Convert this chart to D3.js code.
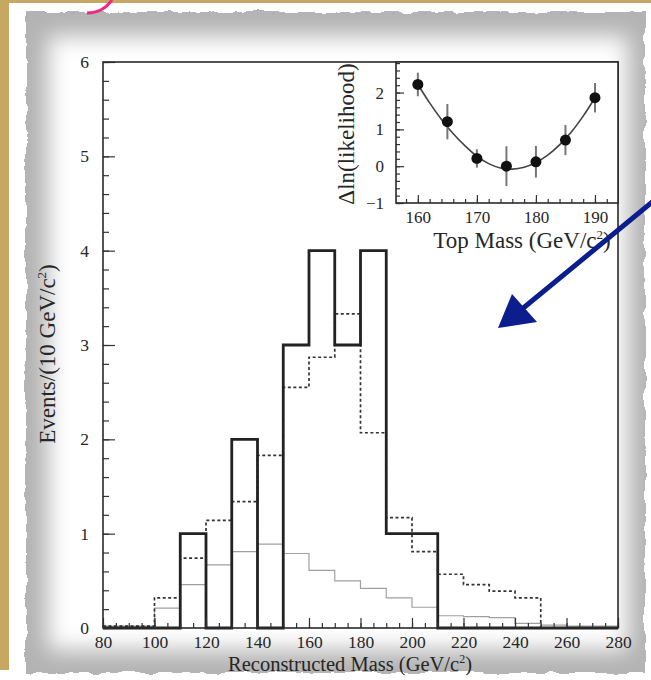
<!DOCTYPE html>
<html lang="en">
<head>
<meta charset="UTF-8">
<title>Reconstructed Mass</title>
<script src="https://d3js.org/d3.v7.min.js"></script>
<style>
  body { margin: 0; background: #fff; }
  svg { display: block; }
  text { font-family: "Liberation Serif", "DejaVu Serif", serif; fill: #262626; }
</style>
</head>
<body>
<script>
// 10 GeV bins, lower edges 80 ... 270
const binEdges = [80, 90, 100, 110, 120, 130, 140, 150, 160, 170, 180, 190, 200, 210, 220, 230, 240, 250, 260, 270, 280];
const dataCounts = [0, 0, 0, 1, 0, 2, 0, 3, 4, 3, 4, 1, 1, 0, 0, 0, 0, 0, 0, 0];
const signalPlusBkg = [0.02, 0.02, 0.32, 0.74, 1.14, 1.34, 1.83, 2.55, 2.87, 3.33, 2.07, 1.17, 0.81, 0.57, 0.46, 0.39, 0.32, 0, 0, 0];
const background = [0.02, 0.02, 0.21, 0.46, 0.67, 0.81, 0.89, 0.79, 0.61, 0.5, 0.42, 0.32, 0.22, 0.13, 0.12, 0.11, 0.05, 0.03, 0.02, 0.02];
const xTicks = [80, 100, 120, 140, 160, 180, 200, 220, 240, 260, 280];
const yTicks = [0, 1, 2, 3, 4, 5, 6];

// inset: likelihood scan
const topMass = [160, 165, 170, 175, 180, 185, 190];
const dLnL = [2.22, 1.21, 0.21, 0.0, 0.12, 0.71, 1.86];
const dLnLErr = [0.32, 0.48, 0.25, 0.54, 0.43, 0.41, 0.4];
const fitMass = [160, 162, 164, 166, 168, 170, 172, 174, 176, 178, 180, 182, 184, 186, 188, 190];
const fitValue = [2.22, 1.72, 1.27, 0.88, 0.55, 0.27, 0.07, -0.05, -0.08, -0.03, 0.1, 0.3, 0.58, 0.93, 1.36, 1.86];
const insetXTicks = [160, 170, 180, 190];
const insetYTicks = [-1, 0, 1, 2];

const width = 651, height = 680;
const svg = d3.select("body").append("svg")
    .attr("width", width)
    .attr("height", height);

const defs = svg.append("defs");
const rough = defs.append("filter").attr("id", "rough")
    .attr("x", "-5%").attr("y", "-5%").attr("width", "110%").attr("height", "110%");
rough.append("feTurbulence").attr("type", "fractalNoise").attr("baseFrequency", 0.06)
    .attr("numOctaves", 3).attr("seed", 4).attr("result", "noise");
rough.append("feDisplacementMap").attr("in", "SourceGraphic").attr("in2", "noise")
    .attr("scale", 7).attr("xChannelSelector", "R").attr("yChannelSelector", "G");
defs.append("filter").attr("id", "soft")
    .attr("x", "-10%").attr("y", "-10%").attr("width", "120%").attr("height", "120%")
    .append("feGaussianBlur").attr("stdDeviation", 11);

// photo background: tan desk, white slide, torn grey-edged paper
svg.append("rect").attr("width", width).attr("height", height).attr("fill", "#c7a862");
svg.append("rect").attr("x", 9).attr("y", 3).attr("width", width - 9).attr("height", height - 3).attr("fill", "#fff");
svg.append("rect").attr("x", 0).attr("y", 670).attr("width", width).attr("height", 10).attr("fill", "#fff");
svg.append("rect").attr("x", 26).attr("y", 12).attr("width", 619).attr("height", 661)
    .attr("fill", "#b3b3b3").attr("filter", "url(#rough)");
svg.append("rect").attr("x", 48).attr("y", 36).attr("width", 580).attr("height", 614)
    .attr("fill", "#fff").attr("filter", "url(#soft)");

// pink pen stroke at the top
svg.append("path").attr("d", "M87,13 Q103,13 112,0")
    .attr("fill", "none").attr("stroke", "#ec2a80").attr("stroke-width", 3);

// main histogram
const x = d3.scaleLinear().domain([80, 280]).range([103, 618]);
const y = d3.scaleLinear().domain([0, 6]).range([628, 62]);

const g = svg.append("g");

const stepPoints = vals => vals.map((v, i) => [binEdges[i], v]).concat([[binEdges[vals.length], vals[vals.length - 1]]]);
const step = d3.line().x(d => x(d[0])).y(d => y(d[1])).curve(d3.curveStepAfter);

g.append("rect").attr("x", x(80)).attr("y", y(6))
    .attr("width", x(280) - x(80)).attr("height", y(0) - y(6))
    .attr("fill", "#fff");

g.append("path").attr("d", step(stepPoints(background)))
    .attr("fill", "none").attr("stroke", "#a0a0a0").attr("stroke-width", 1.2);
g.append("path").attr("d", step(stepPoints(signalPlusBkg)))
    .attr("fill", "none").attr("stroke", "#333").attr("stroke-width", 1.7)
    .attr("stroke-dasharray", "3,2.5");
g.append("path").attr("d", step(stepPoints(dataCounts)))
    .attr("fill", "none").attr("stroke", "#222").attr("stroke-width", 2.8);

function axisStyle(sel, size) {
    sel.select(".domain").remove();
    sel.selectAll(".tick line").attr("stroke", "#333").attr("stroke-width", 1.2);
    sel.selectAll(".tick text").style("font-size", (size || 17.5) + "px").attr("fill", "#262626");
}

g.append("g").attr("transform", `translate(0,${y(0)})`)
    .call(d3.axisBottom(x).tickValues(d3.range(80, 281, 5)).tickSize(-5).tickFormat(""))
    .call(axisStyle);
g.append("g").attr("transform", `translate(0,${y(0)})`)
    .call(d3.axisBottom(x).tickValues(xTicks).tickSize(-10).tickPadding(8).tickFormat(d3.format("d")))
    .call(axisStyle);
g.append("g").attr("transform", `translate(${x(80)},0)`)
    .call(d3.axisLeft(y).tickValues(d3.range(0, 6.01, 0.2)).tickSize(-6).tickFormat(""))
    .call(axisStyle);
g.append("g").attr("transform", `translate(${x(80)},0)`)
    .call(d3.axisLeft(y).tickValues(yTicks).tickSize(-12).tickPadding(14).tickFormat(d3.format("d")))
    .call(axisStyle);

g.append("rect").attr("x", x(80)).attr("y", y(6))
    .attr("width", x(280) - x(80)).attr("height", y(0) - y(6))
    .attr("fill", "none").attr("stroke", "#2a2a2a").attr("stroke-width", 1.6);

const xTitle = g.append("text").attr("x", 350).attr("y", 671)
    .attr("text-anchor", "middle").style("font-size", "20.5px");
xTitle.append("tspan").text("Reconstructed Mass (GeV/c");
xTitle.append("tspan").attr("dy", -8).style("font-size", "12px").text("2");
xTitle.append("tspan").attr("dy", 8).text(")");

const yTitle = g.append("text").attr("transform", "translate(55,354) rotate(-90)")
    .attr("text-anchor", "middle").style("font-size", "23px");
yTitle.append("tspan").text("Events/(10 GeV/c");
yTitle.append("tspan").attr("dy", -9).style("font-size", "13px").text("2");
yTitle.append("tspan").attr("dy", 9).text(")");

// inset
const xi = d3.scaleLinear().domain([156.3, 193.9]).range([396, 618]);
const yi = d3.scaleLinear().domain([-1, 2.83]).range([203, 62]);
const gi = svg.append("g");

gi.append("rect").attr("x", xi(156.3)).attr("y", yi(2.83))
    .attr("width", xi(193.9) - xi(156.3)).attr("height", yi(-1) - yi(2.83))
    .attr("fill", "#fff");

gi.append("path")
    .attr("d", d3.line().x(d => xi(d[0])).y(d => yi(d[1])).curve(d3.curveCatmullRom)(fitMass.map((m, i) => [m, fitValue[i]])))
    .attr("fill", "none").attr("stroke", "#444").attr("stroke-width", 1.6);

gi.selectAll("line.err").data(topMass).join("line").attr("class", "err")
    .attr("x1", d => xi(d)).attr("x2", d => xi(d))
    .attr("y1", (d, i) => yi(dLnL[i] - dLnLErr[i]))
    .attr("y2", (d, i) => yi(dLnL[i] + dLnLErr[i]))
    .attr("stroke", "#777").attr("stroke-width", 2);
gi.selectAll("circle").data(topMass).join("circle")
    .attr("cx", d => xi(d)).attr("cy", (d, i) => yi(dLnL[i])).attr("r", 5.5)
    .attr("fill", "#111");

gi.append("g").attr("transform", `translate(0,${yi(-1)})`)
    .call(d3.axisBottom(xi).tickValues(d3.range(158, 194, 2)).tickSize(-4).tickFormat(""))
    .call(axisStyle);
gi.append("g").attr("transform", `translate(0,${yi(-1)})`)
    .call(d3.axisBottom(xi).tickValues(insetXTicks).tickSize(-8).tickPadding(8).tickFormat(d3.format("d")))
    .call(s => axisStyle(s, 17));
gi.append("g").attr("transform", `translate(${xi(156.3)},0)`)
    .call(d3.axisLeft(yi).tickValues(d3.range(-1, 2.81, 0.2)).tickSize(-4).tickFormat(""))
    .call(axisStyle);
gi.append("g").attr("transform", `translate(${xi(156.3)},0)`)
    .call(d3.axisLeft(yi).tickValues(insetYTicks).tickSize(-8).tickPadding(12).tickFormat(d3.format("d")))
    .call(s => axisStyle(s, 17));

gi.append("rect").attr("x", xi(156.3)).attr("y", yi(2.83))
    .attr("width", xi(193.9) - xi(156.3)).attr("height", yi(-1) - yi(2.83))
    .attr("fill", "none").attr("stroke", "#2a2a2a").attr("stroke-width", 1.6);

const iTitle = gi.append("text").attr("x", 522).attr("y", 248)
    .attr("text-anchor", "middle").style("font-size", "23px");
iTitle.append("tspan").text("Top Mass (GeV/c");
iTitle.append("tspan").attr("dy", -9).style("font-size", "13px").text("2");
iTitle.append("tspan").attr("dy", 9).text(")");

gi.append("text").attr("transform", "translate(354,134) rotate(-90)")
    .attr("text-anchor", "middle").style("font-size", "23px")
    .text("\u0394ln(likelihood)");

// blue pointer arrow
svg.append("line").attr("x1", 662).attr("y1", 194).attr("x2", 516).attr("y2", 314)
    .attr("stroke", "#0c1d8e").attr("stroke-width", 5);
svg.append("path").attr("d", "M498,328 L512,294 L537,322 Z").attr("fill", "#0c1d8e");
</script>
</body>
</html>
